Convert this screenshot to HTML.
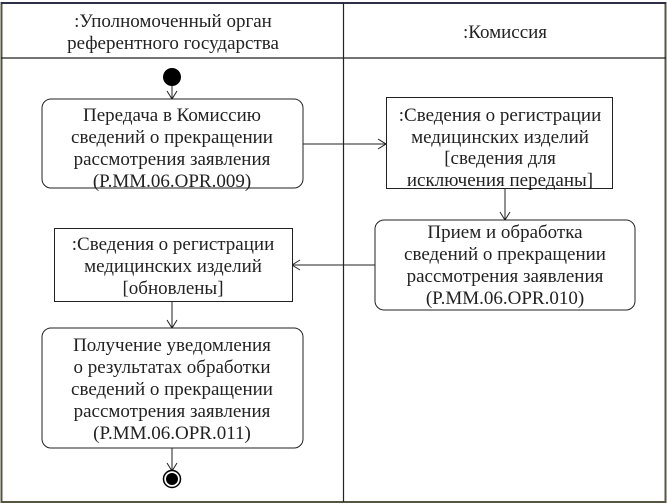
<!DOCTYPE html>
<html><head><meta charset="utf-8"><style>
html,body{margin:0;padding:0;background:#fff;}
svg{display:block;}
text{font-family:"Liberation Serif","DejaVu Serif",serif;font-size:19px;fill:#222;text-anchor:middle;}
</style></head><body>
<svg width="667" height="504" viewBox="0 0 667 504" xmlns="http://www.w3.org/2000/svg">
<rect x="0" y="0" width="667" height="504" fill="#fff"/>
<rect x="1.5" y="3" width="664" height="499" fill="none" stroke="#555544" stroke-width="2"/>
<line x1="1" y1="3" x2="666" y2="3" stroke="#222244" stroke-width="1.5"/>
<line x1="1" y1="58" x2="666" y2="58" stroke="#222" stroke-width="1.2"/>
<line x1="343.5" y1="3" x2="343.5" y2="502" stroke="#222" stroke-width="1.2"/>
<text x="173" y="27">:Уполномоченный орган</text>
<text x="173" y="49">референтного государства</text>
<text x="505" y="38">:Комиссия</text>

<circle cx="172" cy="77" r="9" fill="#000"/>
<line x1="172" y1="86" x2="172" y2="98" stroke="#222"/>
<polyline points="167,91 172,99 177,91" fill="none" stroke="#222"/>

<rect x="42" y="99" width="261" height="89" rx="9" fill="#fff" stroke="#222"/>
<text x="172" y="121">Передача в Комиссию</text>
<text x="172" y="143">сведений о прекращении</text>
<text x="172" y="165">рассмотрения заявления</text>
<text x="172" y="187">(P.MM.06.OPR.009)</text>

<line x1="303" y1="144" x2="386" y2="144" stroke="#222"/>
<polyline points="378,139 386,144 378,149" fill="none" stroke="#222"/>

<rect x="386.5" y="97.5" width="226" height="91" fill="#fff" stroke="#222"/>
<text x="500" y="121">:Сведения о регистрации</text>
<text x="500" y="143">медицинских изделий</text>
<text x="500" y="164">[сведения для</text>
<text x="500" y="186">исключения переданы]</text>

<line x1="505" y1="189" x2="505" y2="219" stroke="#222"/>
<polyline points="500,212 505,220 510,212" fill="none" stroke="#222"/>

<rect x="375" y="220" width="260" height="90" rx="9" fill="#fff" stroke="#222"/>
<text x="505" y="238">Прием и обработка</text>
<text x="505" y="260">сведений о прекращении</text>
<text x="505" y="282">рассмотрения заявления</text>
<text x="505" y="304">(P.MM.06.OPR.010)</text>

<line x1="375" y1="265" x2="292" y2="265" stroke="#222"/>
<polyline points="300,260 292,265 300,270" fill="none" stroke="#222"/>

<rect x="54.5" y="228.5" width="238" height="73" fill="#fff" stroke="#222"/>
<text x="173" y="250">:Сведения о регистрации</text>
<text x="173" y="272">медицинских изделий</text>
<text x="173" y="294">[обновлены]</text>

<line x1="172" y1="302" x2="172" y2="328" stroke="#222"/>
<polyline points="167,320 172,328 177,320" fill="none" stroke="#222"/>

<rect x="42" y="328" width="261" height="120" rx="9" fill="#fff" stroke="#222"/>
<text x="172" y="351">Получение уведомления</text>
<text x="172" y="373">о результатах обработки</text>
<text x="172" y="395">сведений о прекращении</text>
<text x="172" y="417">рассмотрения заявления</text>
<text x="172" y="439">(P.MM.06.OPR.011)</text>

<line x1="172" y1="448" x2="172" y2="470" stroke="#222"/>
<polyline points="167,463 172,471 177,463" fill="none" stroke="#222"/>
<circle cx="172" cy="479" r="8.5" fill="#fff" stroke="#000" stroke-width="1.5"/>
<circle cx="172" cy="479" r="6" fill="#000"/>
</svg>
</body></html>
